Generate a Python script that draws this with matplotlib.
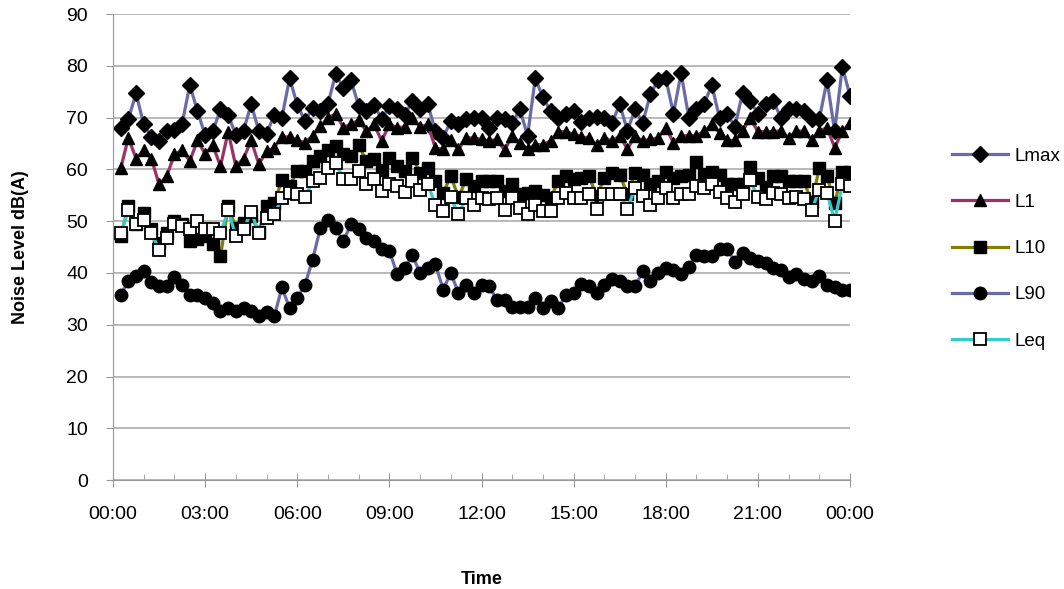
import numpy as np
import pandas as pd
import matplotlib
matplotlib.use("Agg")
import matplotlib.pyplot as plt
import matplotlib.dates as mdates

# 15-minute readings, 00:15 .. 24:00
times = pd.date_range("2000-01-01 00:15", periods=96, freq="15min")

lmax = [68.1, 69.7, 74.7, 68.7, 66.3, 65.5, 67.4, 67.7, 68.8, 76.3, 71.3, 66.6,
        67.4, 71.6, 70.6, 66.6, 67.5, 72.6, 67.4, 66.8, 70.6, 70.0, 77.6, 72.5,
        69.4, 71.9, 71.3, 72.7, 78.4, 75.7, 77.2, 72.3, 71.3, 72.5, 69.7, 72.3,
        71.6, 70.6, 73.2, 71.6, 72.6, 67.4, 66.1, 69.4, 68.7, 69.7, 70.0, 70.0,
        68.1, 70.0, 69.7, 69.0, 71.6, 66.5, 77.6, 73.9, 71.3, 69.9, 70.8, 71.3,
        69.2, 70.0, 70.1, 70.0, 69.0, 72.6, 67.5, 71.6, 69.0, 74.6, 77.2, 77.6,
        70.8, 78.6, 70.0, 71.6, 72.7, 76.3, 69.9, 70.8, 68.2, 74.8, 73.2, 70.8,
        72.6, 73.2, 70.0, 71.6, 71.6, 71.3, 69.7, 69.7, 77.2, 67.4, 79.8, 74.2]

l1 = [60.2, 66.1, 62.1, 63.7, 62.1, 57.1, 58.7, 62.9, 63.7, 61.6, 65.6, 63.0,
      64.7, 60.6, 67.3, 60.6, 62.1, 65.6, 61.0, 63.5, 64.2, 66.3, 66.3, 65.6,
      65.2, 66.5, 68.4, 69.9, 70.8, 68.1, 68.8, 69.5, 67.4, 68.7, 65.5, 68.7,
      68.1, 68.2, 69.9, 68.2, 68.7, 64.1, 63.9, 65.6, 63.9, 66.1, 66.1, 65.8,
      65.5, 65.8, 63.7, 66.5, 65.2, 63.9, 64.8, 64.8, 65.5, 67.3, 67.3, 66.8,
      66.3, 66.1, 64.7, 66.1, 65.5, 66.5, 63.9, 66.5, 65.5, 65.8, 66.1, 68.1,
      65.2, 66.5, 66.5, 66.5, 67.4, 68.7, 67.1, 65.6, 65.6, 67.4, 69.9, 67.3,
      67.3, 67.3, 67.5, 66.1, 67.4, 67.4, 65.6, 67.4, 68.1, 64.2, 67.4, 69.0]

l10 = [47.1, 52.9, 49.5, 51.6, 48.5, 45.8, 47.7, 50.1, 49.5, 46.1, 46.5, 47.1,
       45.5, 43.2, 52.9, 48.7, 49.7, 51.0, 48.0, 52.9, 53.5, 58.0, 56.8, 59.7,
       59.7, 61.6, 62.5, 63.7, 64.6, 62.9, 62.5, 64.7, 61.6, 62.1, 59.8, 62.3,
       60.6, 59.7, 62.3, 59.4, 60.3, 57.7, 55.5, 58.7, 54.6, 58.1, 56.8, 57.7,
       57.7, 57.7, 55.8, 57.1, 55.2, 55.5, 55.8, 55.0, 54.5, 57.7, 58.7, 58.1,
       58.4, 58.7, 54.8, 58.3, 59.4, 59.0, 55.2, 59.4, 59.0, 57.1, 57.7, 59.5,
       58.4, 58.7, 59.0, 61.5, 59.2, 59.5, 59.0, 57.2, 57.1, 57.1, 60.5, 58.3,
       56.6, 58.7, 58.7, 57.7, 57.7, 57.7, 53.7, 60.2, 58.7, 53.5, 59.5, 59.5]

l90 = [35.8, 38.4, 39.4, 40.3, 38.3, 37.4, 37.4, 39.2, 37.7, 35.7, 35.7, 35.2,
       34.2, 32.6, 33.2, 32.7, 33.2, 32.7, 31.6, 32.5, 31.6, 37.2, 33.2, 35.2,
       37.7, 42.6, 48.6, 50.3, 48.7, 46.1, 49.5, 48.4, 46.8, 46.1, 44.7, 44.3,
       39.8, 41.0, 43.4, 40.0, 41.0, 41.7, 36.8, 40.0, 36.1, 37.7, 36.1, 37.7,
       37.4, 34.8, 34.8, 33.5, 33.5, 33.5, 35.2, 33.2, 34.5, 33.2, 35.8, 36.1,
       37.9, 37.4, 36.1, 37.7, 38.9, 38.4, 37.4, 37.4, 40.3, 38.4, 40.0, 41.0,
       40.6, 39.8, 41.1, 43.5, 43.2, 43.2, 44.7, 44.7, 42.1, 43.9, 42.9, 42.3,
       41.9, 41.0, 40.6, 39.2, 39.8, 38.9, 38.4, 39.4, 37.6, 37.2, 36.8, 36.8]

leq = [47.7, 52.1, 49.4, 50.3, 47.7, 44.5, 46.8, 49.4, 49.0, 48.4, 50.1, 48.4,
       48.4, 47.7, 52.1, 47.1, 48.4, 51.8, 47.7, 50.6, 51.3, 54.5, 55.5, 55.2,
       54.6, 57.7, 58.4, 60.3, 61.3, 58.2, 58.2, 59.7, 57.2, 58.2, 55.8, 57.1,
       56.8, 55.7, 57.7, 56.1, 57.1, 53.2, 51.9, 54.6, 51.3, 54.5, 53.2, 54.5,
       54.2, 54.5, 52.1, 54.4, 52.6, 51.3, 53.2, 51.9, 51.9, 54.5, 55.5, 54.5,
       54.5, 55.2, 52.3, 55.2, 55.2, 55.2, 52.3, 56.5, 54.8, 53.2, 54.5, 56.5,
       54.5, 55.2, 55.2, 56.8, 56.5, 57.1, 55.7, 54.5, 53.7, 55.2, 57.9, 54.6,
       54.2, 55.5, 55.2, 54.4, 54.6, 54.2, 52.1, 56.1, 55.5, 50.1, 57.1, 56.8]

plt.rcParams["font.family"] = ["Liberation Sans", "DejaVu Sans"]

fig = plt.figure(figsize=(10.64, 5.89), dpi=100)
ax = fig.add_axes([0.1062, 0.185, 0.6927, 0.791])

lw = 2.3
ax.plot(times, lmax, color="#6a6aa6", lw=lw, marker="D", ms=8, mfc="black", mec="black", label="Lmax")
ax.plot(times, l1, color="#993366", lw=lw, marker="^", ms=9, mfc="black", mec="black", label="L1")
ax.plot(times, l10, color="#808000", lw=lw, marker="s", ms=8.5, mfc="black", mec="black", label="L10")
ax.plot(times, l90, color="#6a6aa6", lw=lw, marker="o", ms=9, mfc="black", mec="black", label="L90")
ax.plot(times, leq, color="#33cccc", lw=lw, marker="s", ms=8.5, mfc="white", mec="black", mew=1.3, label="Leq")

start = pd.Timestamp("2000-01-01 00:00")
ax.set_xlim(start, start + pd.Timedelta(hours=24))
ax.set_ylim(0, 90)
ax.set_yticks(range(0, 91, 10))

ax.xaxis.set_major_locator(mdates.HourLocator(byhour=range(0, 24, 3)))
ax.xaxis.set_minor_locator(mdates.HourLocator())
ax.xaxis.set_major_formatter(mdates.DateFormatter("%H:%M"))

ax.grid(axis="y", color="#a6a6a6", lw=1.1)
ax.set_axisbelow(True)
for s in ["top", "right"]:
    ax.spines[s].set_visible(False)
for s in ["left", "bottom"]:
    ax.spines[s].set_color("#999999")

ax.tick_params(axis="x", which="major", direction="inout", length=10, color="#999999", labelsize=14, pad=14)
ax.tick_params(axis="x", which="minor", direction="in", length=4, color="#999999")
ax.tick_params(axis="y", direction="out", length=5, color="#999999", labelsize=14, pad=13)

ax.set_ylabel("Noise Level dB(A)", fontsize=13, fontweight="bold", labelpad=27)
ax.set_xlabel("Time", fontsize=13, fontweight="bold", labelpad=34)

fig.legend(loc="upper left", bbox_to_anchor=(0.879, 0.778), frameon=False,
           fontsize=13.5, handlelength=3.0, labelspacing=1.55, handletextpad=0.3)

fig.savefig("out.png", dpi=100)
